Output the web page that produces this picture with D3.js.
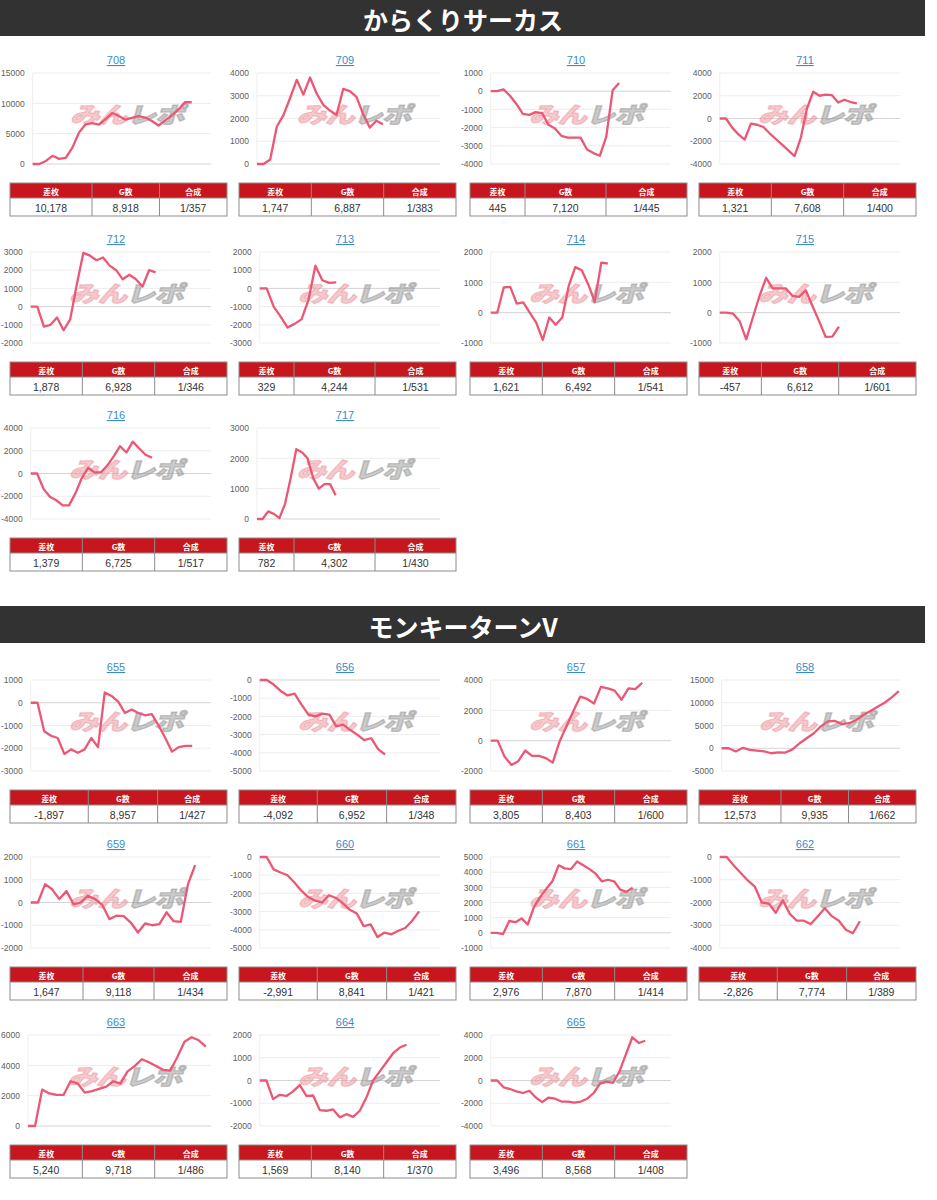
<!DOCTYPE html>
<html>
<head>
<meta charset="utf-8">
<script src="https://cdn.jsdelivr.net/npm/d3@7"></script>
<style>
body { margin: 0; background: #fff; }
svg text { font-family: "Liberation Sans", Arial, sans-serif; }
</style>
</head>
<body>
<svg id="page" width="937" height="1200"></svg>
<script>
// からくりサーカス
const sec1Names = ["708", "709", "710", "711", "712", "713", "714", "715", "716", "717"];
const sec1Diff = [10178, 1747, 445, 1321, 1878, 329, 1621, -457, 1379, 782];
const sec1Games = [8918, 6887, 7120, 7608, 6928, 4244, 6492, 6612, 6725, 4302];
const sec1Rate = ["1/357", "1/383", "1/445", "1/400", "1/346", "1/531", "1/541", "1/601", "1/517", "1/430"];
const sec1Ticks = [
    [0, 5000, 10000, 15000], [0, 1000, 2000, 3000, 4000], [-4000, -3000, -2000, -1000, 0, 1000],
    [-4000, -2000, 0, 2000, 4000], [-2000, -1000, 0, 1000, 2000, 3000], [-3000, -2000, -1000, 0, 1000, 2000],
    [-1000, 0, 1000, 2000], [-1000, 0, 1000, 2000], [-4000, -2000, 0, 2000, 4000], [0, 1000, 2000, 3000]
];
const sec1Lines = [
    [0, 0, 500, 1350, 850, 1000, 2700, 5200, 6550, 6750, 6500, 7400, 8400, 7900, 7300, 7600, 7900, 7650, 7100, 6350, 7200, 8000, 9000, 10200, 10178],
    [0, 0, 200, 1650, 2150, 2900, 3700, 3050, 3800, 3100, 2600, 2350, 2150, 3300, 3200, 2950, 2200, 1600, 1900, 1747],
    [0, 0, 100, -250, -700, -1250, -1300, -1150, -1200, -1850, -2050, -2450, -2550, -2550, -2550, -3200, -3400, -3550, -2500, 50, 445],
    [0, 0, -800, -1400, -1850, -450, -550, -750, -1300, -1800, -2300, -2800, -3300, -1700, 900, 2350, 2000, 2100, 2050, 1400, 1650, 1450, 1321],
    [0, 0, -1100, -1000, -600, -1300, -700, 1200, 2950, 2800, 2550, 2700, 2250, 2000, 1500, 1750, 1500, 1100, 2000, 1878],
    [0, 0, -1000, -1550, -2150, -1950, -1700, -650, 1250, 450, 300, 329],
    [0, 0, 830, 850, 300, 340, 0, -330, -900, -160, -400, -160, 880, 1500, 1400, 930, 360, 1650, 1621],
    [0, 0, -30, -280, -880, -160, 550, 1150, 800, 800, 800, 550, 520, 740, 220, -280, -800, -790, -457],
    [0, 0, -1350, -2050, -2350, -2800, -2800, -1750, -400, 500, 100, 100, 700, 1500, 2400, 1850, 2800, 2200, 1650, 1379],
    [0, 0, 250, 170, 30, 500, 1350, 2300, 2200, 2000, 1350, 1000, 1150, 1150, 782]
];

// モンキーターンV
const sec2Names = ["655", "656", "657", "658", "659", "660", "661", "662", "663", "664", "665"];
const sec2Diff = [-1897, -4092, 3805, 12573, 1647, -2991, 2976, -2826, 5240, 1569, 3496];
const sec2Games = [8957, 6952, 8403, 9935, 9118, 8841, 7870, 7774, 9718, 8140, 8568];
const sec2Rate = ["1/427", "1/348", "1/600", "1/662", "1/434", "1/421", "1/414", "1/389", "1/486", "1/370", "1/408"];
const sec2Ticks = [
    [-3000, -2000, -1000, 0, 1000], [-5000, -4000, -3000, -2000, -1000, 0], [-2000, 0, 2000, 4000],
    [-5000, 0, 5000, 10000, 15000], [-2000, -1000, 0, 1000, 2000], [-5000, -4000, -3000, -2000, -1000, 0],
    [-1000, 0, 1000, 2000, 3000, 4000, 5000], [-4000, -3000, -2000, -1000, 0], [0, 2000, 4000, 6000],
    [-2000, -1000, 0, 1000, 2000], [-4000, -2000, 0, 2000, 4000]
];
const sec2Lines = [
    [0, 0, -1250, -1450, -1550, -2250, -2050, -2200, -2050, -1550, -1950, 450, 300, 50, -450, -300, -450, -550, -500, -1000, -1550, -2150, -1950, -1900, -1897],
    [0, 0, -250, -600, -850, -750, -1350, -1900, -2000, -1850, -1900, -2550, -2450, -2750, -3000, -3300, -3200, -3800, -4092],
    [0, 0, -1050, -1600, -1350, -650, -1000, -1000, -1150, -1450, -50, 950, 1950, 2900, 2750, 2450, 3550, 3450, 3300, 2700, 3450, 3400, 3805],
    [0, 0, -700, 100, -350, -500, -700, -1100, -900, -950, -250, 1100, 2200, 3300, 4800, 5900, 6000, 5300, 5500, 6200, 7300, 8200, 9100, 10000, 11200, 12573],
    [0, 0, 800, 580, 150, 500, -80, 0, 300, 150, -100, -730, -580, -600, -880, -1320, -920, -1000, -950, -430, -820, -850, 800, 1647],
    [0, 0, -680, -850, -1000, -1400, -1850, -2200, -2400, -2500, -2100, -2250, -2550, -2900, -3100, -3800, -3700, -4400, -4150, -4250, -4050, -3900, -3500, -2991],
    [0, 0, -80, 780, 700, 950, 550, 1700, 2350, 2900, 3400, 4450, 4250, 4200, 4700, 4450, 4200, 3900, 3400, 3500, 3400, 2850, 2700, 2976],
    [0, 0, -370, -700, -1030, -1300, -2000, -2050, -2450, -1900, -2500, -2800, -2800, -2950, -2600, -2250, -2600, -2800, -3200, -3350, -2826],
    [0, 0, 2400, 2150, 2050, 2050, 2950, 2800, 2200, 2300, 2450, 2600, 2950, 2800, 3600, 3950, 4400, 4200, 3950, 3700, 3650, 4550, 5550, 5850, 5650, 5240],
    [0, 0, -820, -630, -680, -480, -200, -680, -660, -1300, -1330, -1270, -1620, -1480, -1600, -1330, -740, 0, 400, 800, 1200, 1450, 1569],
    [0, 0, -600, -750, -950, -1100, -900, -1500, -1900, -1500, -1600, -1850, -1850, -1950, -1850, -1600, -1100, -250, -100, -200, 800, 2300, 3800, 3300, 3496]
];

const tableHeads = ["差枚", "G数", "合成"];

// layout
const svg = d3.select("#page");
const colX = [0, 229, 460, 689];
const sec1Rows = [60, 239, 415];
const sec2Rows = [667, 844, 1022];
const G_AXIS = 10000;
const lineColor = "#ec5775";
const fmt = d3.formatLocale({ decimal: ".", thousands: ",", grouping: [3], currency: ["", ""], minus: "-" }).format(",");

function textWidth(str, size, family, weight) {
    let t = svg.append("text")
        .style("font-family", family)
        .style("font-size", size + "px")
        .style("font-weight", weight || 400)
        .text(str);
    let w = t.node().getComputedTextLength();
    t.remove();
    return w;
}

function drawHeader(y, h, title) {
    svg.append("rect")
        .attr("x", 0).attr("y", y).attr("width", 925).attr("height", h)
        .attr("fill", "#323232");
    svg.append("text")
        .attr("x", 463).attr("y", y + h / 2 + 1)
        .attr("text-anchor", "middle")
        .attr("dominant-baseline", "central")
        .style("font-family", "'Noto Sans CJK JP'")
        .style("font-weight", 700)
        .style("font-size", "25px")
        .attr("fill", "#fff")
        .text(title);
}

function drawPanel(cx, ty, name, values, games, ticks, diff, rate) {
    let g = svg.append("g").attr("class", "panel");
    let labW = d3.max(ticks, function (t) { return textWidth(String(t), 8.5, "Liberation Sans"); });
    let left = cx + 1 + labW + 8, right = cx + 211;
    let top = ty + 13, bottom = ty + 104;

    let x = d3.scaleLinear().domain([0, G_AXIS]).range([left, right]);
    let y = d3.scaleLinear().domain([ticks[0], ticks[ticks.length - 1]]).range([bottom, top]);

    // title (link style)
    g.append("text")
        .attr("x", cx + 116).attr("y", ty + 4)
        .attr("text-anchor", "middle")
        .style("font-size", "11px")
        .style("text-decoration", "underline")
        .attr("fill", "#3d8ac6")
        .text(name);

    // gridlines
    g.append("line")
        .attr("x1", left).attr("x2", left).attr("y1", top).attr("y2", bottom)
        .attr("stroke", "#eeeeee");
    g.selectAll("line.grid")
        .data(ticks)
        .enter().append("line")
        .attr("class", "grid")
        .attr("x1", left).attr("x2", right)
        .attr("y1", function (d) { return y(d); })
        .attr("y2", function (d) { return y(d); })
        .attr("stroke", function (d) { return d === 0 ? "#d4d4d4" : "#ededed"; })
        .attr("stroke-width", 1);

    // y axis labels
    let axis = g.append("g")
        .attr("transform", "translate(" + left + ",0)")
        .call(d3.axisLeft(y).tickValues(ticks).tickSize(0).tickPadding(8)
            .tickFormat(function (d) { return String(d); }));
    axis.select(".domain").remove();
    axis.selectAll("text")
        .style("font-family", "Liberation Sans")
        .style("font-size", "8.5px")
        .attr("fill", "#606060");

    // watermark
    let mx = (left + right) / 2 + 8, my = (top + bottom) / 2 - 6;
    let wm = g.append("text")
        .attr("transform", "translate(" + mx + "," + my + ") skewX(-16) scale(1.05,0.8)")
        .attr("text-anchor", "middle")
        .attr("dominant-baseline", "central")
        .style("font-family", "'Noto Sans CJK JP'")
        .style("font-weight", 900)
        .style("font-size", "28px")
        .style("letter-spacing", "-1px")
        .attr("stroke-width", 1.6)
        .attr("stroke-linejoin", "round");
    wm.append("tspan").attr("fill", "rgba(236,150,158,0.5)").attr("stroke", "rgba(236,150,158,0.5)").text("みん");
    wm.append("tspan").attr("fill", "rgba(150,150,150,0.5)").attr("stroke", "rgba(150,150,150,0.5)").text("レポ");

    // line
    let n = values.length;
    let line = d3.line()
        .x(function (d, i) { return x(i * games / (n - 1)); })
        .y(function (d) { return y(d); });
    g.append("path")
        .datum(values)
        .attr("d", line)
        .attr("fill", "none")
        .attr("stroke", lineColor)
        .attr("stroke-width", 2.3)
        .attr("stroke-linejoin", "round");

    // stats table
    let tx = cx + 10, tw = 217, tyy = ty + 123, hh = 15, vh = 18;
    let cells = [fmt(diff), fmt(games), rate];
    let raw = cells.map(function (s, i) {
        return Math.max(textWidth(s, 10.5, "Liberation Sans"), textWidth(tableHeads[i], 8, "Noto Sans CJK JP", 700)) + 1;
    });
    let sum = d3.sum(raw);
    let widths = raw.map(function (w) { return w / sum * tw; });
    let xs = [tx];
    widths.forEach(function (w, i) { xs.push(xs[i] + w); });

    g.append("rect")
        .attr("x", tx).attr("y", tyy).attr("width", tw).attr("height", hh)
        .attr("fill", "#c8161e");
    g.append("rect")
        .attr("x", tx).attr("y", tyy).attr("width", tw).attr("height", hh + vh)
        .attr("fill", "none").attr("stroke", "#8c8c8c");
    g.append("line")
        .attr("x1", tx).attr("x2", tx + tw).attr("y1", tyy + hh).attr("y2", tyy + hh)
        .attr("stroke", "#8c8c8c");
    g.selectAll("line.div")
        .data(xs.slice(1, 3))
        .enter().append("line")
        .attr("class", "div")
        .attr("x1", function (d) { return d; }).attr("x2", function (d) { return d; })
        .attr("y1", tyy).attr("y2", tyy + hh + vh)
        .attr("stroke", "#8c8c8c");

    g.selectAll("text.head")
        .data(tableHeads)
        .enter().append("text")
        .attr("class", "head")
        .attr("x", function (d, i) { return xs[i] + widths[i] / 2; })
        .attr("y", tyy + hh / 2 + 0.5)
        .attr("text-anchor", "middle")
        .attr("dominant-baseline", "central")
        .style("font-family", "'Noto Sans CJK JP'")
        .style("font-weight", 700)
        .style("font-size", "8px")
        .attr("fill", "#fff")
        .text(function (d) { return d; });

    g.selectAll("text.val")
        .data(cells)
        .enter().append("text")
        .attr("class", "val")
        .attr("x", function (d, i) { return xs[i] + widths[i] / 2; })
        .attr("y", tyy + hh + vh / 2 + 0.5)
        .attr("text-anchor", "middle")
        .attr("dominant-baseline", "central")
        .style("font-size", "10.5px")
        .attr("fill", "#333")
        .text(function (d) { return d; });
}

drawHeader(0, 36, "からくりサーカス");
drawHeader(606, 37, "モンキーターンV");

sec1Names.forEach(function (name, i) {
    drawPanel(colX[i % 4], sec1Rows[Math.floor(i / 4)], name, sec1Lines[i], sec1Games[i], sec1Ticks[i], sec1Diff[i], sec1Rate[i]);
});
sec2Names.forEach(function (name, i) {
    drawPanel(colX[i % 4], sec2Rows[Math.floor(i / 4)], name, sec2Lines[i], sec2Games[i], sec2Ticks[i], sec2Diff[i], sec2Rate[i]);
});
</script>
</body>
</html>
